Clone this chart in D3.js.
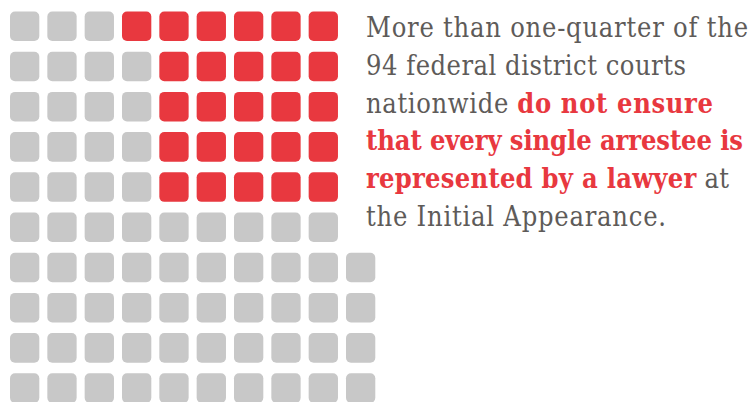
<!DOCTYPE html>
<html>
<head>
<meta charset="utf-8">
<script src="https://cdn.jsdelivr.net/npm/d3@7"></script>
<style>
  html, body { margin: 0; padding: 0; background: #fff; }
  #chart { width: 752px; height: 402px; overflow: hidden; }
</style>
</head>
<body>
<div id="chart"></div>
<script>
// 94 federal district courts, 26 of them highlighted
const rowCounts   = [9, 9, 9, 9, 9, 9, 10, 10, 10, 10];
const redPerRow   = [6, 5, 5, 5, 5, 0, 0, 0, 0, 0];
const columns     = d3.range(10);
const rows        = d3.range(10);

// caption lines: [text, highlighted]
const textLines = [
  [["More than one-quarter of the", false]],
  [["94 federal district courts", false]],
  [["nationwide ", false], ["do not ensure", true]],
  [["that every single arrestee is", true]],
  [["represented by a lawyer", true], [" at", false]],
  [["the Initial Appearance.", false]]
];

const config = {
  width      : 752,
  height     : 402,
  grey       : "#c8c8c8",
  red        : "#e8383f",
  textGrey   : "#5e5b59",
  fontFamily : "'DejaVu Serif Condensed', 'DejaVu Serif', serif",
  fontSize   : 27,
  lineHeight : 37.7,
  textX      : 366,
  textY      : 37.3,
  // where each caption line ends, so the wrap matches the original
  lineEnds   : [748, 686, 713, 743, 729, 666]
};

const svg = d3.select("#chart")
  .append("svg")
    .attr("width", config.width)
    .attr("height", config.height);

const x = d3.scaleBand()
  .domain(columns)
  .range([10, 375.3])
  .paddingInner(0.215)
  .paddingOuter(0);

const y = d3.scaleBand()
  .domain(rows)
  .range([11.5, 11.5 + 40.2 * (10 - 0.265)])
  .paddingInner(0.265)
  .paddingOuter(0);

// build the cells, red ones sit at the right end of each row
const cells = [];
rowCounts.forEach(function (n, r) {
  for (let c = 0; c < n; c++) {
    cells.push({ row: r, col: c, red: c >= n - redPerRow[r] });
  }
});

svg.append("g")
  .selectAll("rect")
  .data(cells)
  .enter()
    .append("rect")
    .attr("x", d => x(d.col))
    .attr("y", d => y(d.row))
    .attr("width", x.bandwidth())
    .attr("height", y.bandwidth())
    .attr("rx", 5)
    .attr("ry", 5)
    .attr("fill", d => d.red ? config.red : config.grey);

// caption
const caption = svg.append("g")
  .attr("font-family", config.fontFamily)
  .attr("font-size", config.fontSize);

caption.selectAll("text")
  .data(textLines)
  .enter()
    .append("text")
    .attr("x", config.textX)
    .attr("y", (d, i) => config.textY + i * config.lineHeight)
    .attr("textLength", (d, i) => config.lineEnds[i] - config.textX)
    .attr("lengthAdjust", "spacing")
    .style("white-space", "pre")
    .each(function (line) {
      d3.select(this).selectAll("tspan")
        .data(line)
        .enter()
          .append("tspan")
          .text(s => s[0])
          .attr("fill", s => s[1] ? config.red : config.textGrey)
          .attr("font-weight", s => s[1] ? "bold" : "normal");
    });
</script>
</body>
</html>
